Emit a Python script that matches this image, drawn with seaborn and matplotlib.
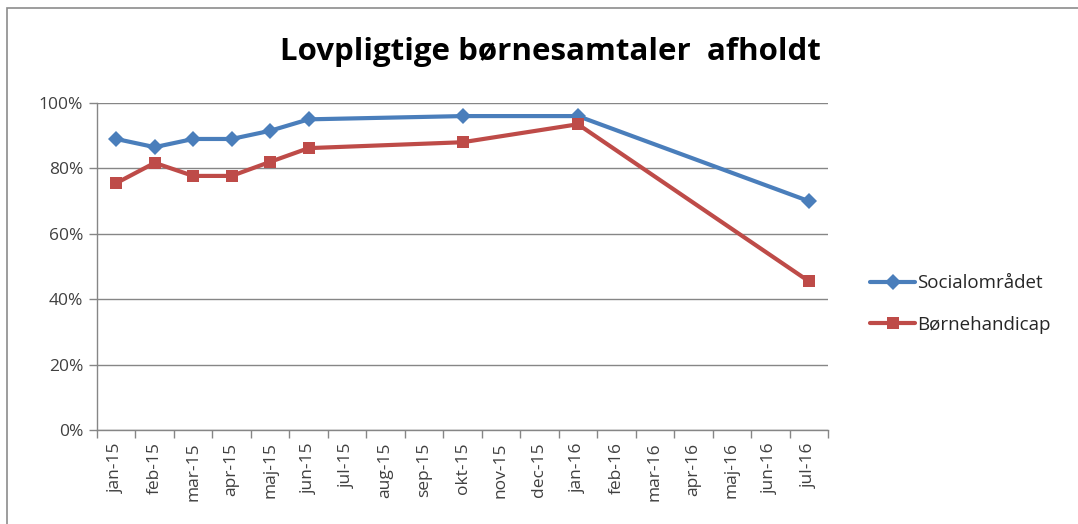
import numpy as np
import pandas as pd
import seaborn as sns
from matplotlib import pyplot as plt
from matplotlib import ticker as tick
from matplotlib.patches import Rectangle

months = [
    "jan-15", "feb-15", "mar-15", "apr-15", "maj-15", "jun-15", "jul-15",
    "aug-15", "sep-15", "okt-15", "nov-15", "dec-15", "jan-16", "feb-16",
    "mar-16", "apr-16", "maj-16", "jun-16", "jul-16",
]
# measured months only (lines are connected across the gaps)
measured = ["jan-15", "feb-15", "mar-15", "apr-15", "maj-15", "jun-15",
            "okt-15", "jan-16", "jul-16"]
socialomraadet = [0.89, 0.865, 0.89, 0.89, 0.915, 0.95, 0.96, 0.96, 0.70]
boernehandicap = [0.755, 0.817, 0.777, 0.777, 0.82, 0.862, 0.88, 0.935, 0.455]

BLUE = "#4a7ebb"
RED = "#be4b48"


def main():
    sns.set_theme(style="white")
    plt.rcParams["font.family"] = ["Open Sans", "DejaVu Sans"]

    pos = [months.index(m) for m in measured]
    df = pd.concat(
        [
            pd.DataFrame({"x": pos, "value": socialomraadet, "Serie": "Socialområdet"}),
            pd.DataFrame({"x": pos, "value": boernehandicap, "Serie": "Børnehandicap"}),
        ]
    )

    fig = plt.figure(figsize=(10.78, 5.24), dpi=100)
    ax = fig.add_axes([97 / 1078, 94 / 524, 731 / 1078, 327 / 524])

    # chart area border
    fig.patches.append(
        Rectangle((7 / 1078, -0.1), 1.2, 1 - 8 / 524 + 0.1, transform=fig.transFigure,
                  fill=False, edgecolor="#8c8c8c", linewidth=1.2, zorder=0)
    )

    g = sns.lineplot(
        data=df, x="x", y="value", hue="Serie", style="Serie",
        palette=[BLUE, RED], markers=["D", "s"], dashes=False,
        markersize=9, linewidth=3, markeredgewidth=0, ax=ax, legend=True,
    )
    for line in ax.lines:
        if line.get_marker() == "D":
            line.set_markersize(8)

    ax.set_xlim(-0.5, len(months) - 0.5)
    ax.set_ylim(0, 1)
    ax.set_xlabel("")
    ax.set_ylabel("")

    ax.xaxis.set_major_locator(tick.FixedLocator(range(len(months))))
    ax.xaxis.set_major_formatter(tick.FixedFormatter(months))
    ax.xaxis.set_minor_locator(tick.FixedLocator(np.arange(-0.5, len(months), 1)))
    ax.tick_params(axis="x", which="major", length=0, labelrotation=90,
                   labelsize=12.5, pad=9, colors="#404040")
    ax.tick_params(axis="x", which="minor", length=6, color="#868686", width=1,
                   bottom=True)
    ax.yaxis.set_major_locator(tick.MultipleLocator(0.2))
    ax.yaxis.set_major_formatter(tick.PercentFormatter(1.0, decimals=0))
    ax.tick_params(axis="y", length=6, color="#868686", width=1, left=True,
                   labelsize=12.5, colors="#404040", pad=4)

    ax.grid(axis="y", color="#868686", linewidth=1)
    ax.set_axisbelow(True)
    for side in ["top", "right"]:
        ax.spines[side].set_visible(False)
    for side in ["left", "bottom"]:
        ax.spines[side].set_color("#868686")
        ax.spines[side].set_linewidth(1)

    leg = ax.legend(loc="center left", bbox_to_anchor=(1.035, 0.385), frameon=False,
                    fontsize=13.5, handlelength=2.4, handletextpad=0.1,
                    labelspacing=1.25)
    for h in leg.legend_handles:
        h.set_linewidth(3)

    fig.text(0.511, 0.9, "Lovpligtige børnesamtaler  afholdt", ha="center",
             va="center", fontsize=22.5, fontweight="bold", color="black")

    plt.savefig("out.png", dpi=100)


if __name__ == "__main__":
    main()
